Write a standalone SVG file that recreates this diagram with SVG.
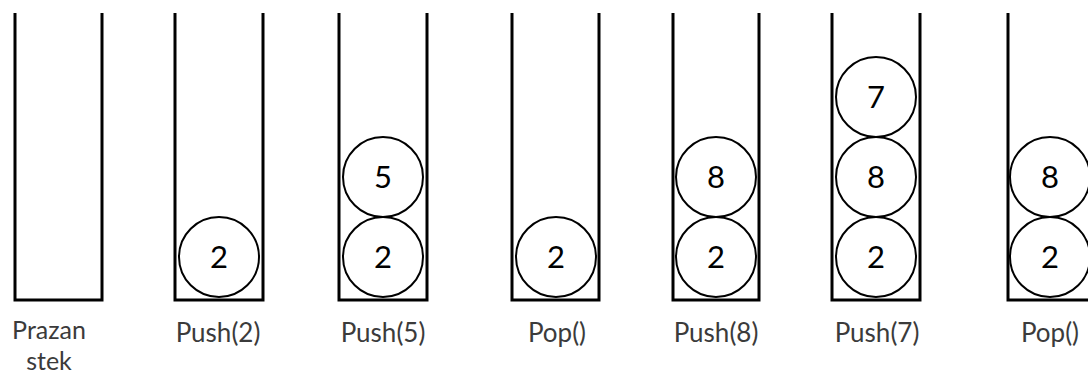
<svg xmlns="http://www.w3.org/2000/svg" width="1088" height="376" viewBox="0 0 1088 376">
<style>
.stack{fill:none;stroke:#000;stroke-width:3;stroke-linejoin:miter}
.ball{fill:#fff;stroke:#000;stroke-width:2}
.num{font-family:Lato,"Open Sans",sans-serif;font-size:31px;fill:#000;text-anchor:middle}
.lbl{font-family:Lato,"Open Sans",sans-serif;font-size:26px;fill:#3b3b3b;text-anchor:middle}
.sm{font-size:25px}
</style>
<rect width="1088" height="376" fill="#fff"/>
<g id="s1">
<path class="stack" d="M15 13V300H102V13"/>
<text class="lbl sm" x="49" y="339">Prazan</text>
<text class="lbl sm" x="49" y="370">stek</text>
</g>
<g id="s2">
<path class="stack" d="M175 13V300H263V13"/>
<circle class="ball" cx="219" cy="257" r="40"/><text class="num" x="219" y="268">2</text>
<text class="lbl" x="218" y="342">Push(2)</text>
</g>
<g id="s3">
<path class="stack" d="M339 13V300H427V13"/>
<circle class="ball" cx="383" cy="257" r="40"/><text class="num" x="383" y="268">2</text>
<circle class="ball" cx="383" cy="177" r="40"/><text class="num" x="383" y="188">5</text>
<text class="lbl" x="383" y="342">Push(5)</text>
</g>
<g id="s4">
<path class="stack" d="M512 13V300H599V13"/>
<circle class="ball" cx="556" cy="257" r="40"/><text class="num" x="556" y="268">2</text>
<text class="lbl" x="557" y="342">Pop()</text>
</g>
<g id="s5">
<path class="stack" d="M673 13V300H759V13"/>
<circle class="ball" cx="716" cy="257" r="40"/><text class="num" x="716" y="268">2</text>
<circle class="ball" cx="716" cy="177" r="40"/><text class="num" x="716" y="188">8</text>
<text class="lbl" x="716" y="342">Push(8)</text>
</g>
<g id="s6">
<path class="stack" d="M832 13V300H920V13"/>
<circle class="ball" cx="876" cy="257" r="40"/><text class="num" x="876" y="268">2</text>
<circle class="ball" cx="876" cy="177" r="40"/><text class="num" x="876" y="188">8</text>
<circle class="ball" cx="876" cy="97" r="40"/><text class="num" x="876" y="108">7</text>
<text class="lbl" x="877" y="342">Push(7)</text>
</g>
<g id="s7">
<path class="stack" d="M1008 13V300H1096V13"/>
<circle class="ball" cx="1050" cy="257" r="40"/><text class="num" x="1050" y="268">2</text>
<circle class="ball" cx="1050" cy="177" r="40"/><text class="num" x="1050" y="188">8</text>
<text class="lbl" x="1050" y="342">Pop()</text>
</g>
<g id="connectors"/>
</svg>
